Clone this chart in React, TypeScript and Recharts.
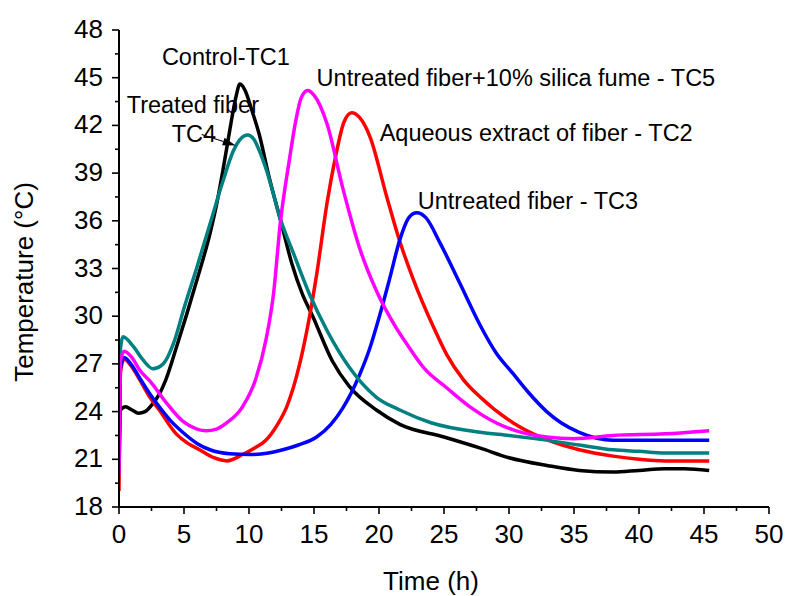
import { Label, Line, LineChart, ReferenceDot, ReferenceLine, XAxis, YAxis } from 'recharts';

const FONT = 'Arial, "Liberation Sans", sans-serif';

// time (h) / temperature (°C)
const tc1Time = [0, 0.12, 0.5, 1.0, 1.5, 2.0, 2.6, 3.1, 3.6, 4.4, 5.2, 6.0, 7.0, 7.5, 8.0, 8.5, 9.0, 9.3, 9.7, 10.2, 10.8, 11.5, 12.5, 13.3, 14.1, 14.9, 16.4, 17.7, 19.8, 21.6, 25.0, 27.8, 30.0, 33.0, 35.4, 38.0, 40.0, 42.0, 43.5, 45.4];
const tc1Temp = [20.0, 24.1, 24.3, 24.1, 23.9, 24.0, 24.5, 25.1, 26.0, 28.0, 30.1, 32.3, 35.2, 37.0, 39.2, 41.6, 43.8, 44.6, 44.2, 43.0, 41.4, 38.9, 35.8, 33.3, 31.4, 30.0, 27.2, 25.6, 24.1, 23.2, 22.4, 21.7, 21.1, 20.6, 20.3, 20.2, 20.3, 20.4, 20.4, 20.3];

const tc2Time = [0, 0.12, 0.4, 1.0, 1.6, 2.3, 3.1, 4.4, 5.3, 6.2, 7.3, 8.3, 9.5, 10.4, 11.3, 12.2, 12.9, 13.9, 14.5, 15.2, 16.0, 16.7, 17.3, 17.9, 18.5, 19.3, 20.6, 21.6, 22.6, 24.2, 25.2, 26.5, 27.8, 30.3, 33.0, 35.4, 38.0, 40.0, 42.0, 45.4];
const tc2Temp = [19.0, 26.5, 27.3, 26.8, 26.0, 25.0, 24.1, 22.6, 22.0, 21.6, 21.1, 20.9, 21.3, 21.7, 22.2, 23.2, 24.3, 27.0, 29.3, 32.6, 37.1, 40.2, 42.2, 42.8, 42.5, 41.3, 37.5, 34.7, 32.4, 29.3, 27.6, 26.0, 24.9, 23.3, 22.2, 21.6, 21.2, 21.0, 20.9, 20.9];

const tc3Time = [0, 0.12, 0.4, 1.0, 1.6, 2.3, 3.1, 4.0, 4.9, 6.0, 7.0, 8.5, 10.1, 11.5, 12.6, 13.8, 15.2, 16.3, 17.2, 18.5, 19.3, 20.0, 20.8, 21.6, 22.3, 22.9, 23.6, 24.7, 26.2, 27.8, 29.0, 30.3, 31.5, 32.9, 34.0, 35.4, 38.0, 40.0, 42.0, 45.4];
const tc3Temp = [20.5, 26.8, 27.4, 26.9, 26.1, 25.2, 24.3, 23.4, 22.7, 22.0, 21.6, 21.35, 21.3, 21.4, 21.6, 21.9, 22.4, 23.2, 24.2, 26.3, 28.0, 29.9, 32.3, 34.8, 36.2, 36.5, 36.2, 34.6, 32.1, 29.4, 27.7, 26.4, 25.2, 24.0, 23.3, 22.7, 22.2, 22.2, 22.2, 22.2];

const tc4Time = [0, 0.12, 0.3, 1.1, 1.8, 2.6, 3.4, 4.2, 5.0, 6.0, 7.0, 8.0, 8.8, 9.3, 9.9, 10.4, 10.8, 11.3, 12.5, 13.4, 14.7, 16.0, 17.7, 19.8, 21.6, 24.0, 27.8, 30.0, 32.0, 35.4, 38.0, 40.0, 42.0, 45.4];
const tc4Temp = [21.0, 28.0, 28.7, 28.1, 27.3, 26.7, 27.0, 28.3, 30.5, 33.1, 35.8, 38.5, 40.4, 41.1, 41.4, 41.1, 40.4, 39.3, 35.9, 34.0, 31.3, 29.1, 26.8, 24.9, 24.1, 23.3, 22.7, 22.5, 22.3, 21.9, 21.6, 21.5, 21.4, 21.4];

const tc5Time = [0, 0.12, 0.4, 1.0, 1.6, 2.4, 3.6, 4.9, 6.0, 6.7, 7.5, 8.3, 9.5, 10.5, 11.3, 11.9, 12.4, 13.1, 13.6, 14.0, 14.5, 15.0, 16.0, 17.2, 18.5, 19.8, 21.3, 22.1, 23.5, 25.2, 27.0, 29.0, 30.5, 32.9, 35.0, 38.0, 42.0, 45.4];
const tc5Temp = [20.0, 27.2, 27.8, 27.4, 26.6, 25.9, 24.6, 23.4, 22.9, 22.8, 22.9, 23.3, 24.3, 26.0, 28.5, 31.5, 35.8, 39.8, 42.3, 43.7, 44.2, 43.9, 42.1, 38.1, 34.3, 31.6, 29.3, 28.3, 26.7, 25.5, 24.3, 23.3, 22.8, 22.4, 22.3, 22.5, 22.6, 22.8];

const xTicks = [0, 2.5, 5, 7.5, 10, 12.5, 15, 17.5, 20, 22.5, 25, 27.5, 30, 32.5, 35, 37.5, 40, 42.5, 45, 47.5, 50];
const yTicks = [18, 19.5, 21, 22.5, 24, 25.5, 27, 28.5, 30, 31.5, 33, 34.5, 36, 37.5, 39, 40.5, 42, 43.5, 45, 46.5, 48];

// curve labels, anchored (left end, baseline) in data units
const notes = [
  { text: 'Control-TC1', time: 3.3, temp: 45.8 },
  { text: 'Untreated fiber+10% silica fume - TC5', time: 15.2, temp: 44.5 },
  { text: 'Aqueous extract of fiber - TC2', time: 20.05, temp: 41.0 },
  { text: 'Untreated fiber - TC3', time: 22.98, temp: 36.72 },
  { text: 'Treated fiber', time: 0.59, temp: 42.8 },
  { text: 'TC4', time: 4.05, temp: 40.97 },
];

const toRows = (time: number[], temp: number[]) => time.map((t, i) => ({ time: t, temp: temp[i] }));

const series = [
  { key: 'tc1', color: '#000000', rows: toRows(tc1Time, tc1Temp) },
  { key: 'tc2', color: '#ff0000', rows: toRows(tc2Time, tc2Temp) },
  { key: 'tc3', color: '#0000ff', rows: toRows(tc3Time, tc3Temp) },
  { key: 'tc4', color: '#008080', rows: toRows(tc4Time, tc4Temp) },
  { key: 'tc5', color: '#ff00ff', rows: toRows(tc5Time, tc5Temp) },
];

function TimeTick(props: any) {
  const { x, y, payload } = props;
  const major = payload.value % 5 === 0;
  return (
    <g>
      <line x1={x} y1={y} x2={x} y2={y + (major ? 7 : 4)} stroke="#000" strokeWidth={1.6} />
      {major && (
        <text x={x} y={y + 36} textAnchor="middle" fontSize={26} fontFamily={FONT} fill="#000">
          {payload.value}
        </text>
      )}
    </g>
  );
}

function TempTick(props: any) {
  const { x, y, payload } = props;
  const major = payload.value % 3 === 0;
  return (
    <g>
      <line x1={x - (major ? 7 : 4)} y1={y} x2={x} y2={y} stroke="#000" strokeWidth={1.6} />
      {major && (
        <text x={x - 16} y={y + 8} textAnchor="end" fontSize={26} fontFamily={FONT} fill="#000">
          {payload.value}
        </text>
      )}
    </g>
  );
}

function Arrow(props: any) {
  const { x1, y1, x2, y2 } = props;
  const a = Math.atan2(y2 - y1, x2 - x1);
  const len = 13;
  const half = 4;
  const bx = x2 - len * Math.cos(a);
  const by = y2 - len * Math.sin(a);
  const pts = [
    `${x2},${y2}`,
    `${bx - half * Math.sin(a)},${by + half * Math.cos(a)}`,
    `${bx + half * Math.sin(a)},${by - half * Math.cos(a)}`,
  ].join(' ');
  return (
    <g>
      <line x1={x1} y1={y1} x2={bx} y2={by} stroke="#000" strokeWidth={1.2} />
      <polygon points={pts} fill="#000" />
    </g>
  );
}

export default function App() {
  return (
    <div style={{ position: 'absolute', left: 0, top: 0, background: '#fff' }}>
      <LineChart width={786} height={596} margin={{ top: 30, right: 17, left: 0, bottom: 0 }}>
        <XAxis
          dataKey="time"
          type="number"
          domain={[0, 50]}
          ticks={xTicks}
          interval={0}
          tickSize={0}
          tickMargin={0}
          tickLine={false}
          tick={<TimeTick />}
          axisLine={{ stroke: '#000', strokeWidth: 2 }}
          height={89}
          allowDataOverflow
        >
          <Label
            content={() => (
              <text x={431} y={590} textAnchor="middle" fontSize={26} fontFamily={FONT} fill="#000">
                Time (h)
              </text>
            )}
          />
        </XAxis>
        <YAxis
          type="number"
          domain={[18, 48]}
          ticks={yTicks}
          interval={0}
          tickSize={0}
          tickMargin={0}
          tickLine={false}
          tick={<TempTick />}
          axisLine={{ stroke: '#000', strokeWidth: 2 }}
          width={119}
          allowDataOverflow
        >
          <Label
            content={() => (
              <text
                transform="translate(33, 282) rotate(-90)"
                textAnchor="middle"
                fontSize={26}
                fontFamily={FONT}
                fill="#000"
              >
                Temperature (°C)
              </text>
            )}
          />
        </YAxis>
        {series.map((s) => (
          <Line
            key={s.key}
            data={s.rows}
            dataKey="temp"
            type="monotone"
            stroke={s.color}
            strokeWidth={3.5}
            dot={false}
            activeDot={false}
            isAnimationActive={false}
          />
        ))}
        {notes.map((n) => (
          <ReferenceDot
            key={n.text}
            x={n.time}
            y={n.temp}
            r={0}
            shape={(p: any) => (
              <text x={p.cx} y={p.cy} fontSize={23.5} fontFamily={FONT} fill="#000">
                {n.text}
              </text>
            )}
          />
        ))}
        <ReferenceLine
          segment={[
            { x: 6.36, y: 41.43 },
            { x: 8.98, y: 40.74 },
          ]}
          shape={<Arrow />}
        />
      </LineChart>
    </div>
  );
}
